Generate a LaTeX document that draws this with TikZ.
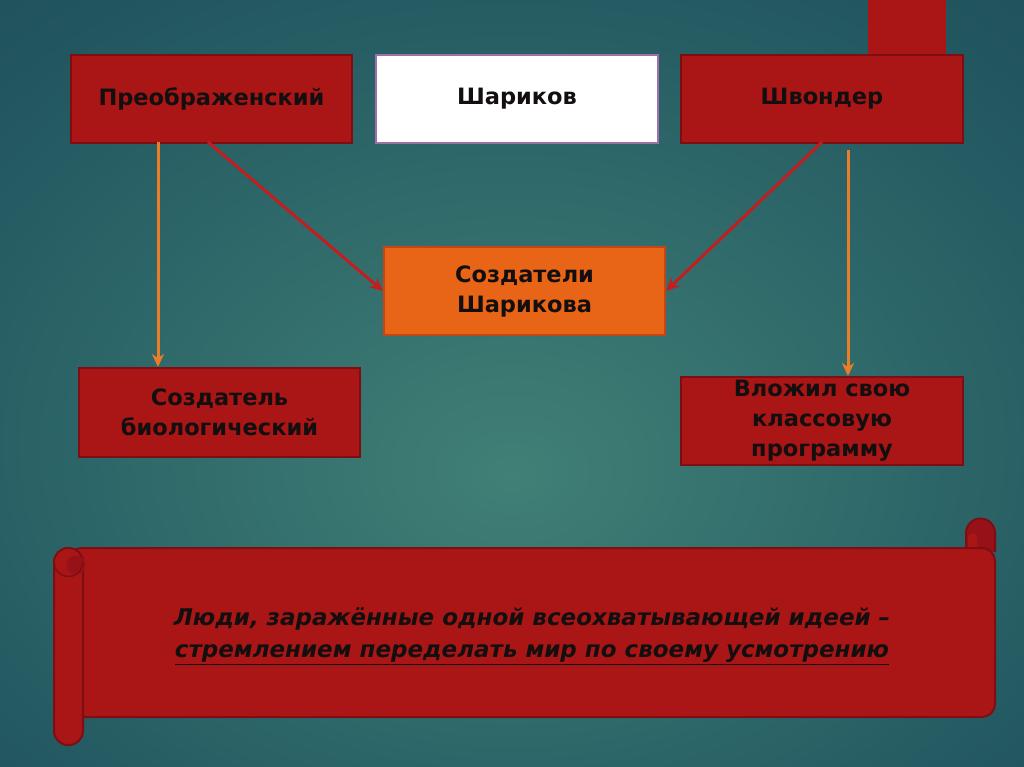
\documentclass[tikz,border=0pt]{standalone}
\usepackage{fontspec}
\setmainfont{DejaVu Sans}
\usetikzlibrary{arrows.meta}
\definecolor{bgin}{RGB}{64,128,118}
\definecolor{bgmid}{RGB}{36,90,98}
\definecolor{bgout}{RGB}{15,48,66}
\definecolor{boxred}{RGB}{170,22,22}
\definecolor{boxredline}{RGB}{125,14,20}
\definecolor{rolldark}{RGB}{150,18,24}
\definecolor{boxorange}{RGB}{232,100,22}
\definecolor{boxorangeline}{RGB}{195,70,20}
\definecolor{arrred}{RGB}{195,30,30}
\definecolor{arrorange}{RGB}{236,125,40}
\definecolor{txt}{RGB}{20,15,15}
\definecolor{wborder}{RGB}{160,110,170}
\pgfdeclareradialshading{bgshade}{\pgfpoint{0bp}{-6bp}}{color(0bp)=(bgin); color(30bp)=(bgmid); color(72bp)=(bgout)}
\tikzset{
  boxfont/.style={font=\bfseries\fontsize{22.5}{30}\selectfont},
  redbox/.style={draw=boxredline, line width=2pt, fill=boxred, text=txt, boxfont, align=center},
  whitebox/.style={draw=wborder, line width=2pt, fill=white, text=txt, boxfont, align=center},
  orangebox/.style={draw=boxorangeline, line width=2pt, fill=boxorange, text=txt, boxfont, align=center},
  redarrow/.style={draw=arrred, line width=3pt, -{Stealth[length=13pt,width=12pt,inset=4pt]}},
  orangearrow/.style={draw=arrorange, line width=3pt, -{Stealth[length=13pt,width=12pt,inset=4pt]}},
  scrollpart/.style={draw=boxredline, line width=2pt, fill=boxred}
}
\begin{document}
\begin{tikzpicture}[x=1pt,y=-1pt]
\useasboundingbox (0,0) rectangle (1024,767);
\shade[shading=bgshade] (0,0) rectangle (1024,767);

% top-right decorative rectangle
\fill[boxred] (868,0) rectangle (946,54);

% top boxes
\node[redbox, minimum width=281pt, minimum height=88pt, anchor=north west] (preo) at (70,54) {Преображенский};
\node[whitebox, minimum width=282pt, minimum height=88pt, anchor=north west] (shar) at (375,54) {Шариков};
\node[redbox, minimum width=282pt, minimum height=88pt, anchor=north west] (shv) at (680,54) {Швондер};

% middle box
\node[orangebox, minimum width=281pt, minimum height=88pt, anchor=north west] (cre) at (383,246) {Создатели\\Шарикова};

% lower boxes
\node[redbox, minimum width=281pt, minimum height=89pt, anchor=north west] (bio) at (78,367) {Создатель\\биологический};
\node[redbox, minimum width=282pt, minimum height=88pt, anchor=north west, inner sep=0pt] (prog) at (680,376) {Вложил свою\\классовую\\программу};

% arrows
\coordinate (a1) at (158,142);
\coordinate (a2) at (208,142);
\coordinate (b1) at (822,142);
\coordinate (b2) at (848,150);
\draw[orangearrow] (a1) -- (a1 |- bio.north);
\draw[orangearrow] (b2) -- (b2 |- prog.north);
\draw[redarrow] (a2) -- (cre.west);
\draw[redarrow] (b1) -- (cre.east);

% scroll: right curl (behind body)
\draw[draw=boxredline, line width=2pt, fill=rolldark] (966,552) -- (966,533) arc[start angle=180, end angle=360, radius=14.5] -- (995,552);
\fill[boxred] (968,538) rectangle (977,548);
\fill[boxred] (972.5,538) circle (4.5);
% scroll body
\draw[scrollpart, rounded corners=13pt] (68,548) -- (966,548) -- (995,548) -- (995,717) -- (68,717) -- cycle;
% left roll
\draw[scrollpart, rounded corners=14pt] (54,548) rectangle (83,745);
\fill[rolldark] (76,565) circle (9.5);
\draw[boxredline, line width=1.5pt] (54,562) arc[start angle=180, end angle=0, radius=14.5];

\node[text=txt, font=\bfseries\itshape\fontsize{23}{32}\selectfont, align=center] (idea) at (532,636) {Люди, заражённые одной всеохватывающей идеей –\\\underline{стремлением переделать мир по своему усмотрению}};
\end{tikzpicture}
\end{document}
